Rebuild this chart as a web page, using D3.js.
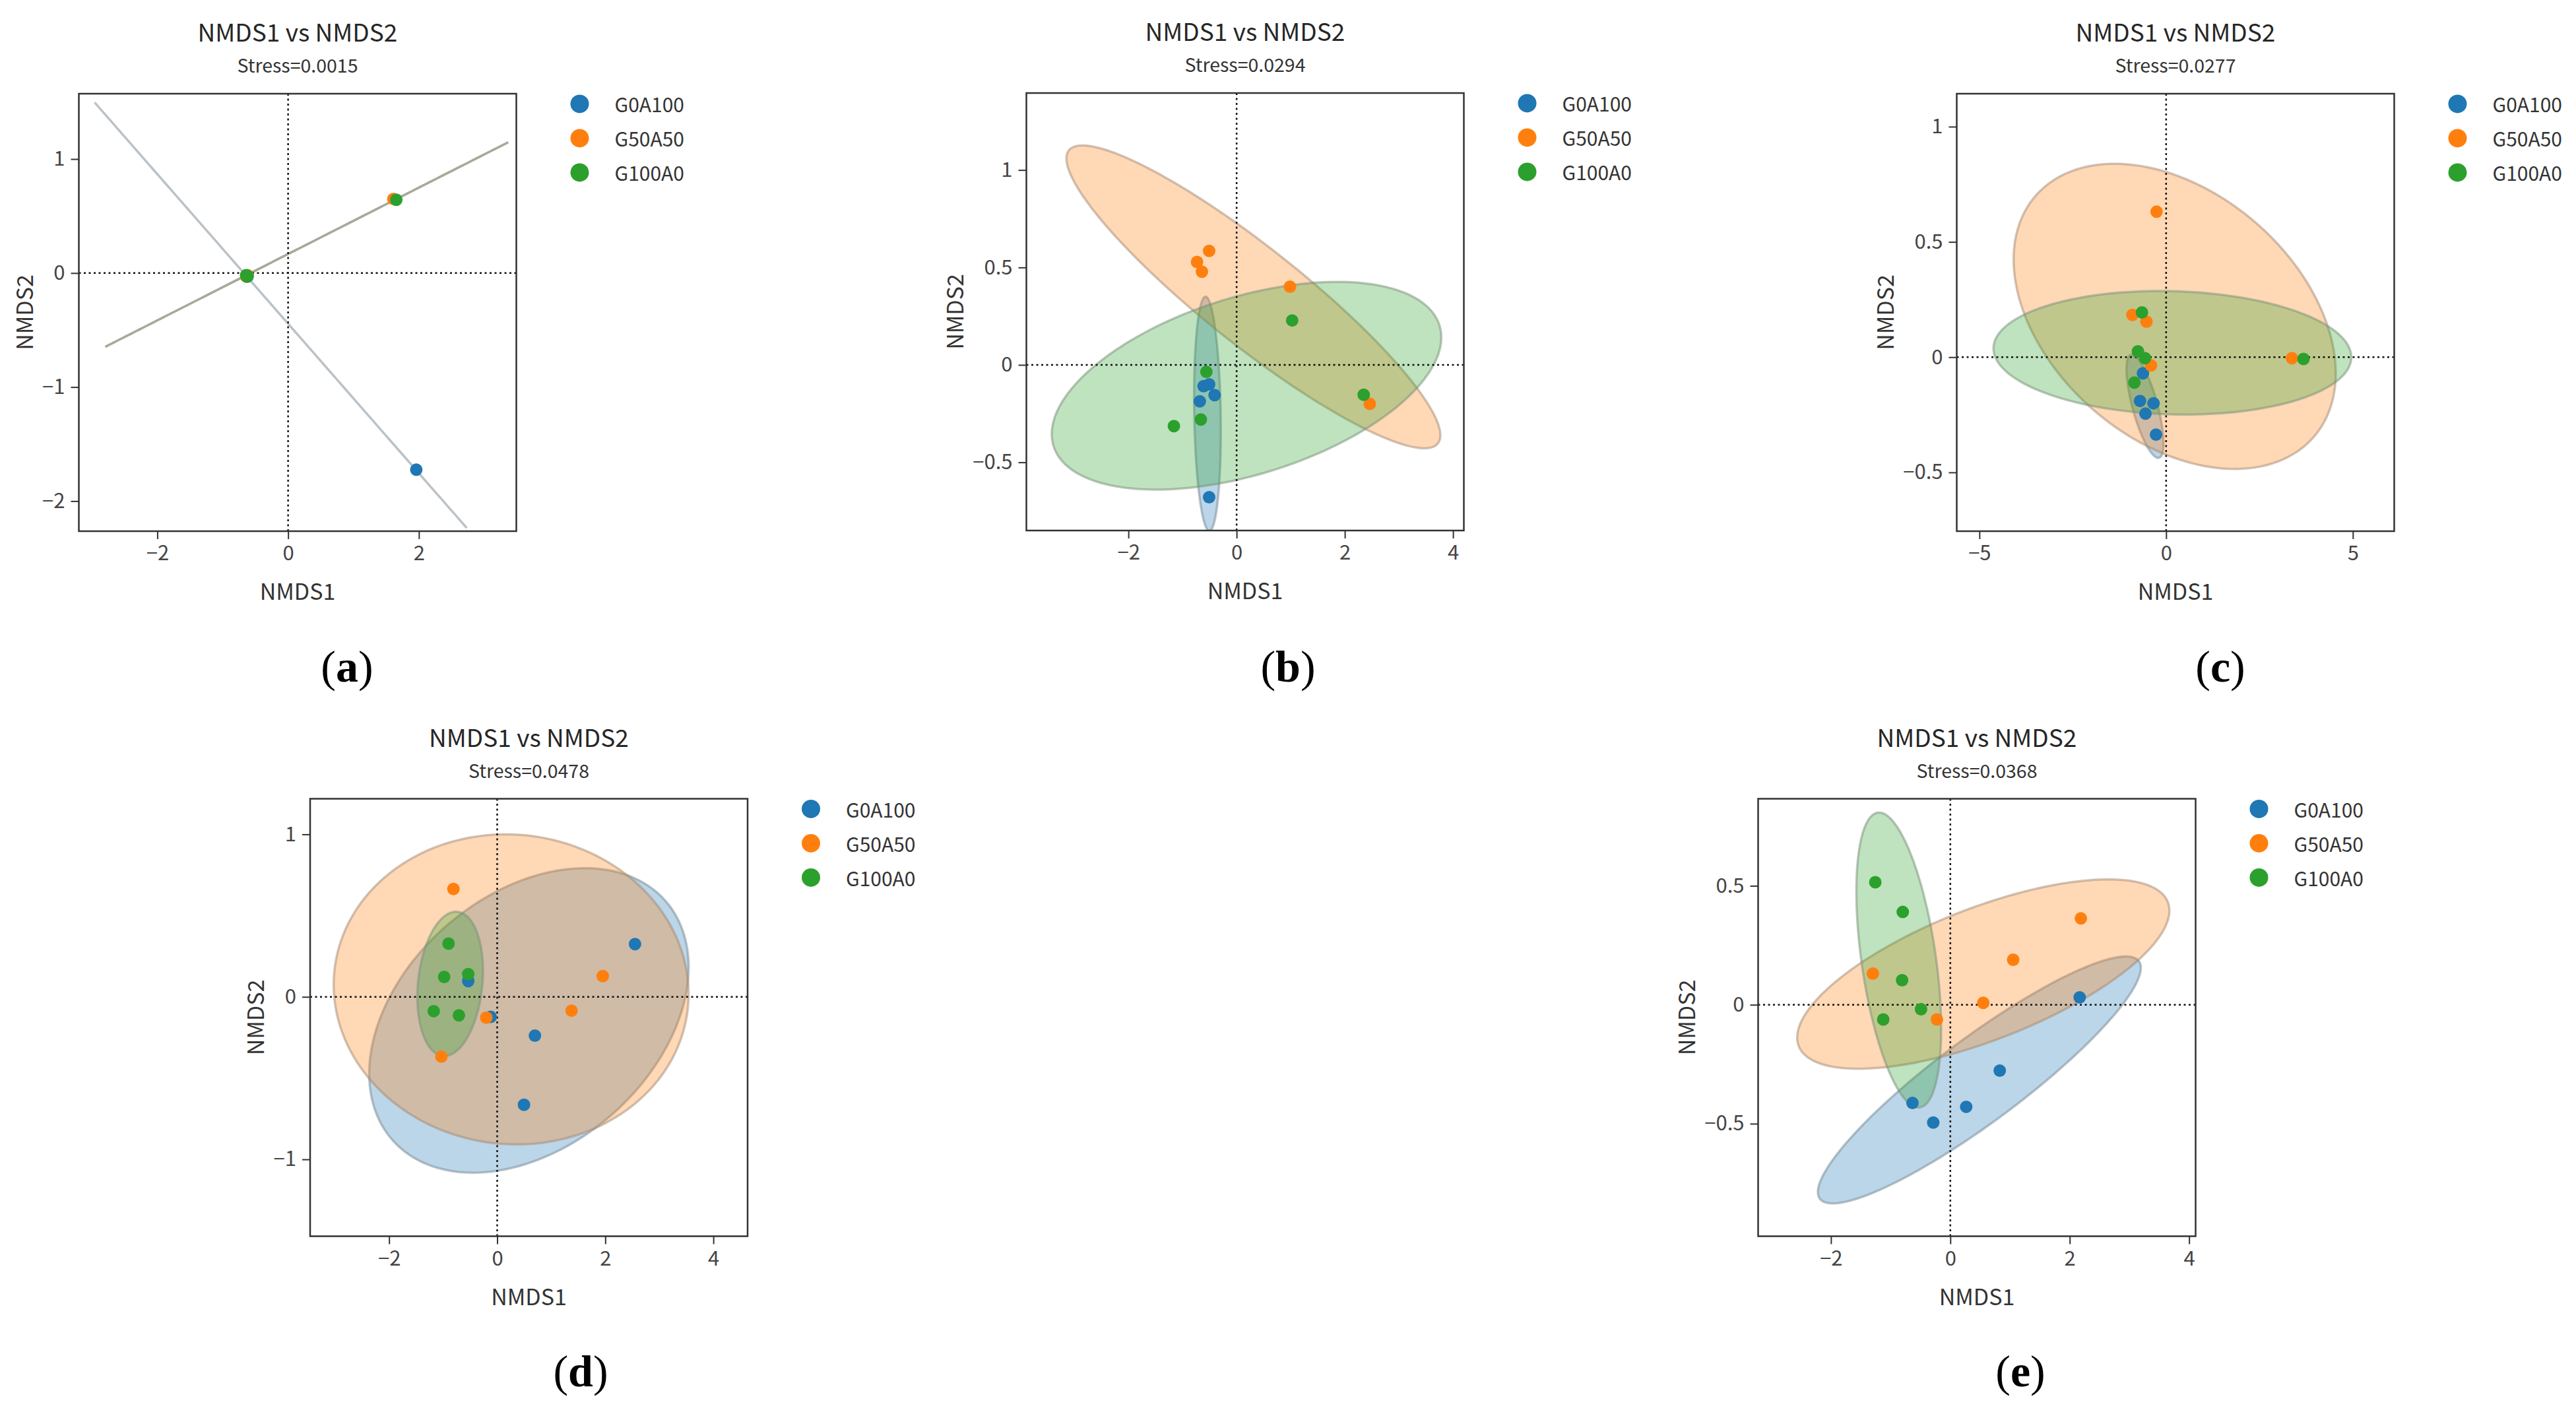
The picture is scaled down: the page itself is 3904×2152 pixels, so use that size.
<!DOCTYPE html>
<html>
<head>
<meta charset="utf-8">
<script src="https://cdn.jsdelivr.net/npm/d3@7"></script>
<style>
  html, body { margin: 0; padding: 0; background: #fff; }
  text { font-family: "Noto Sans CJK SC", "Noto Sans", sans-serif; }
</style>
</head>
<body>
<div id="chart"></div>
<script>
// groups + colours
const groups = ["G0A100", "G50A50", "G100A0"];
const groupColors = ["#1f77b4", "#ff7f0e", "#2ca02c"];
const panelLetters = ["a", "b", "c", "d", "e"];
const stressLabels = ["Stress=0.0015", "Stress=0.0294", "Stress=0.0277", "Stress=0.0478", "Stress=0.0368"];

// ---- panel (a)
const xTicksA = [-2, 0, 2];
const yTicksA = [-2, -1, 0, 1];
const xDomainA = [-3.2, 3.49];
const yDomainA = [-2.264, 1.573];
const pointsA = [
  ["G0A100", -0.63, -0.03], ["G0A100", -0.64, -0.02], ["G0A100", -0.62, -0.03], ["G0A100", -0.63, -0.02], ["G0A100", 1.96, -1.725],
  ["G50A50", -0.63, -0.03], ["G50A50", -0.64, -0.03], ["G50A50", -0.62, -0.02], ["G50A50", -0.63, -0.02], ["G50A50", 1.61, 0.65],
  ["G100A0", -0.634, -0.027], ["G100A0", -0.63, -0.03], ["G100A0", -0.64, -0.02], ["G100A0", -0.62, -0.025], ["G100A0", 1.655, 0.643]
];
// ellipse: [group, centreX, centreY, rightmostX, rightmostY, topmostY]
const ellipsesA = [
  ["G0A100", -0.113, -0.370, 2.732, -2.236, 1.496],
  ["G50A50", 0.285, 0.25, 3.366, 1.147, 1.147],
  ["G100A0", 0.285, 0.25, 3.366, 1.147, 1.147]
];

// ---- panel (b)
const xTicksB = [-2, 0, 2, 4];
const yTicksB = [-0.5, 0, 0.5, 1];
const xDomainB = [-3.886, 4.20];
const yDomainB = [-0.850, 1.395];
const pointsB = [
  ["G0A100", -0.61, -0.109], ["G0A100", -0.508, -0.10], ["G0A100", -0.407, -0.155], ["G0A100", -0.681, -0.187], ["G0A100", -0.508, -0.679],
  ["G50A50", -0.732, 0.528], ["G50A50", -0.508, 0.585], ["G50A50", -0.641, 0.478], ["G50A50", 0.986, 0.401], ["G50A50", 2.461, -0.200],
  ["G100A0", 1.027, 0.228], ["G100A0", 2.349, -0.153], ["G100A0", -0.559, -0.036], ["G100A0", -0.661, -0.280], ["G100A0", -1.159, -0.314]
];
const ellipsesB = [
  ["G0A100", -0.539, -0.251, -0.292, -0.337, 0.350],
  ["G50A50", 0.310, 0.349, 3.766, -0.361, 1.126],
  ["G100A0", 0.183, -0.107, 3.783, 0.141, 0.426]
];

// ---- panel (c)
const xTicksC = [-5, 0, 5];
const yTicksC = [-0.5, 0, 0.5, 1];
const xDomainC = [-5.607, 6.108];
const yDomainC = [-0.755, 1.143];
const pointsC = [
  ["G0A100", -0.62, -0.070], ["G0A100", -0.70, -0.190], ["G0A100", -0.337, -0.200], ["G0A100", -0.553, -0.245], ["G0A100", -0.27, -0.336],
  ["G50A50", -0.256, 0.631], ["G50A50", -0.903, 0.183], ["G50A50", -0.526, 0.154], ["G50A50", -0.404, -0.036], ["G50A50", 3.369, -0.004],
  ["G100A0", -0.647, 0.194], ["G100A0", -0.755, 0.025], ["G100A0", -0.566, -0.004], ["G100A0", -0.849, -0.110], ["G100A0", 3.679, -0.008]
];
const ellipsesC = [
  ["G0A100", -0.566, -0.213, -0.071, -0.373, 0.011],
  ["G50A50", 0.229, 0.177, 4.542, -0.070, 0.839],
  ["G100A0", 0.168, 0.019, 4.959, 0.0, 0.287]
];

// ---- panel (d)
const xTicksD = [-2, 0, 2, 4];
const yTicksD = [-1, 0, 1];
const xDomainD = [-3.461, 4.633];
const yDomainD = [-1.473, 1.219];
const pointsD = [
  ["G0A100", 2.55, 0.325], ["G0A100", 0.698, -0.239], ["G0A100", 0.496, -0.664], ["G0A100", -0.536, 0.097], ["G0A100", -0.121, -0.123],
  ["G50A50", -0.809, 0.664], ["G50A50", 1.953, 0.128], ["G50A50", 1.376, -0.085], ["G50A50", -0.202, -0.128], ["G50A50", -1.032, -0.368],
  ["G100A0", -0.90, 0.328], ["G100A0", -0.981, 0.123], ["G100A0", -0.536, 0.140], ["G100A0", -1.174, -0.088], ["G100A0", -0.708, -0.114]
];
const ellipsesD = [
  ["G0A100", 0.587, -0.145, 3.542, 0.183, 0.792],
  ["G50A50", 0.258, 0.046, 3.541, 0.017, 1.0],
  ["G100A0", -0.870, 0.080, -0.263, 0.160, 0.524]
];

// ---- panel (e)
const xTicksE = [-2, 0, 2, 4];
const yTicksE = [-0.5, 0, 0.5];
const xDomainE = [-3.22, 4.109];
const yDomainE = [-0.973, 0.866];
const pointsE = [
  ["G0A100", 2.167, 0.031], ["G0A100", 0.828, -0.277], ["G0A100", -0.634, -0.413], ["G0A100", 0.266, -0.429], ["G0A100", -0.286, -0.495],
  ["G50A50", 2.187, 0.363], ["G50A50", 1.053, 0.189], ["G50A50", -1.298, 0.131], ["G50A50", 0.552, 0.008], ["G50A50", -0.225, -0.062],
  ["G100A0", -1.257, 0.515], ["G100A0", -0.797, 0.390], ["G100A0", -0.808, 0.103], ["G100A0", -0.491, -0.019], ["G100A0", -1.124, -0.062]
];
const ellipsesE = [
  ["G0A100", 0.486, -0.316, 3.191, 0.155, 0.203],
  ["G50A50", 0.552, 0.129, 3.670, 0.396, 0.527],
  ["G100A0", -0.864, 0.188, -0.154, -0.100, 0.808]
];

// layout (pixels)
const W = 3904, H = 2152, BOX = 663;
const layout = [
  { left: 119.5,  top: 142,    labelX: 526,  labelY: 1033 },
  { left: 1555.5, top: 141,    labelX: 1952, labelY: 1033 },
  { left: 2965.5, top: 142,    labelX: 3365, labelY: 1033 },
  { left: 470,    top: 1210.5, labelX: 880,  labelY: 2101 },
  { left: 2664.5, top: 1210.5, labelX: 3062, labelY: 2101 }
];

const panels = [
  { xt: xTicksA, yt: yTicksA, xd: xDomainA, yd: yDomainA, pts: pointsA, ell: ellipsesA },
  { xt: xTicksB, yt: yTicksB, xd: xDomainB, yd: yDomainB, pts: pointsB, ell: ellipsesB },
  { xt: xTicksC, yt: yTicksC, xd: xDomainC, yd: yDomainC, pts: pointsC, ell: ellipsesC },
  { xt: xTicksD, yt: yTicksD, xd: xDomainD, yd: yDomainD, pts: pointsD, ell: ellipsesD },
  { xt: xTicksE, yt: yTicksE, xd: xDomainE, yd: yDomainE, pts: pointsE, ell: ellipsesE }
];

const color = d3.scaleOrdinal().domain(groups).range(groupColors);
const fmt = d => String(d).replace("-", "\u2212");

const svg = d3.select("#chart").append("svg")
  .attr("width", W).attr("height", H)
  .style("display", "block");
svg.append("rect").attr("width", W).attr("height", H).attr("fill", "#fff");

// ellipse outline from centre, rightmost point and top extent
function ellipsePoints(e) {
  const [, cx, cy, rx, ry, ty] = e;
  const ux = rx - cx, uy = ry - cy;
  const vy = Math.sqrt(Math.max(0, (ty - cy) * (ty - cy) - uy * uy));
  return d3.range(0, 360, 2).map(a => {
    const t = a * Math.PI / 180;
    return [cx + ux * Math.cos(t), cy + uy * Math.cos(t) + vy * Math.sin(t)];
  });
}

panels.forEach((p, i) => {
  const L = layout[i];
  const g = svg.append("g").attr("transform", `translate(${L.left},${L.top})`);

  const x = d3.scaleLinear().domain(p.xd).range([0, BOX]);
  const y = d3.scaleLinear().domain(p.yd).range([BOX, 0]);

  const clipId = "clip" + i;
  g.append("clipPath").attr("id", clipId)
    .append("rect").attr("width", BOX).attr("height", BOX);
  const plot = g.append("g").attr("clip-path", `url(#${clipId})`);

  // confidence ellipses
  const line = d3.line().x(d => x(d[0])).y(d => y(d[1])).curve(d3.curveLinearClosed);
  p.ell.forEach(e => {
    const c = color(e[0]);
    plot.append("path")
      .attr("d", line(ellipsePoints(e)))
      .attr("fill", c)
      .attr("fill-opacity", 0.3)
      .attr("stroke", d3.interpolateRgb(c, "#8c8c8c")(0.8))
      .attr("stroke-opacity", 0.5)
      .attr("stroke-width", 3.5);
  });

  // zero lines
  plot.append("line")
    .attr("x1", 0).attr("x2", BOX).attr("y1", y(0)).attr("y2", y(0))
    .attr("stroke", "#111").attr("stroke-width", 2.5).attr("stroke-dasharray", "3,4.5");
  plot.append("line")
    .attr("x1", x(0)).attr("x2", x(0)).attr("y1", 0).attr("y2", BOX)
    .attr("stroke", "#111").attr("stroke-width", 2.5).attr("stroke-dasharray", "3,4.5");

  // points
  plot.selectAll("circle.pt")
    .data(p.pts)
    .join("circle")
    .attr("class", "pt")
    .attr("cx", d => x(d[1]))
    .attr("cy", d => y(d[2]))
    .attr("r", 9.5)
    .attr("fill", d => color(d[0]));

  // axes
  const xAxisG = g.append("g")
    .attr("transform", `translate(0,${BOX})`)
    .call(d3.axisBottom(x).tickValues(p.xt).tickFormat(fmt).tickSize(12).tickPadding(10));
  const yAxisG = g.append("g")
    .call(d3.axisLeft(y).tickValues(p.yt).tickFormat(fmt).tickSize(12).tickPadding(9));
  [xAxisG, yAxisG].forEach(a => {
    a.select(".domain").remove();
    a.selectAll(".tick line").attr("stroke", "#333").attr("stroke-width", 2);
    a.selectAll(".tick text")
      .attr("fill", "#444")
      .style("font-size", "31px")
      .style("font-family", "'Noto Sans CJK SC', sans-serif");
  });

  // frame
  g.append("rect")
    .attr("width", BOX).attr("height", BOX)
    .attr("fill", "none").attr("stroke", "#333").attr("stroke-width", 2.5);

  // titles
  g.append("text")
    .attr("x", BOX / 2).attr("y", -79)
    .attr("text-anchor", "middle")
    .attr("fill", "#262626")
    .style("font-size", "37px")
    .text("NMDS1 vs NMDS2");
  g.append("text")
    .attr("x", BOX / 2).attr("y", -32)
    .attr("text-anchor", "middle")
    .attr("fill", "#333")
    .style("font-size", "28.5px")
    .text(stressLabels[i]);

  // axis labels
  g.append("text")
    .attr("x", BOX / 2).attr("y", BOX + 104)
    .attr("text-anchor", "middle")
    .attr("fill", "#333")
    .style("font-size", "34px")
    .text("NMDS1");
  const yb = yAxisG.node().getBBox();
  g.append("text")
    .attr("transform", `translate(${yb.x - 29},${BOX / 2}) rotate(-90)`)
    .attr("text-anchor", "middle")
    .attr("dominant-baseline", "central")
    .attr("fill", "#333")
    .style("font-size", "34px")
    .text("NMDS2");

  // legend
  const leg = g.append("g").attr("transform", `translate(${BOX + 96},15.4)`);
  groups.forEach((name, k) => {
    leg.append("circle")
      .attr("cx", 0).attr("cy", k * 52)
      .attr("r", 14)
      .attr("fill", color(name));
    leg.append("text")
      .attr("x", 53).attr("y", k * 52)
      .attr("dominant-baseline", "central")
      .attr("fill", "#333")
      .style("font-size", "30px")
      .text(name);
  });

  // panel letter
  const lab = svg.append("text")
    .attr("x", L.labelX).attr("y", L.labelY)
    .attr("text-anchor", "middle")
    .attr("fill", "#000")
    .style("font-family", "'Liberation Serif', 'DejaVu Serif', serif")
    .style("font-size", "68px");
  lab.append("tspan").text("(");
  lab.append("tspan").attr("font-weight", "bold").text(panelLetters[i]);
  lab.append("tspan").text(")");
});
</script>
</body>
</html>
